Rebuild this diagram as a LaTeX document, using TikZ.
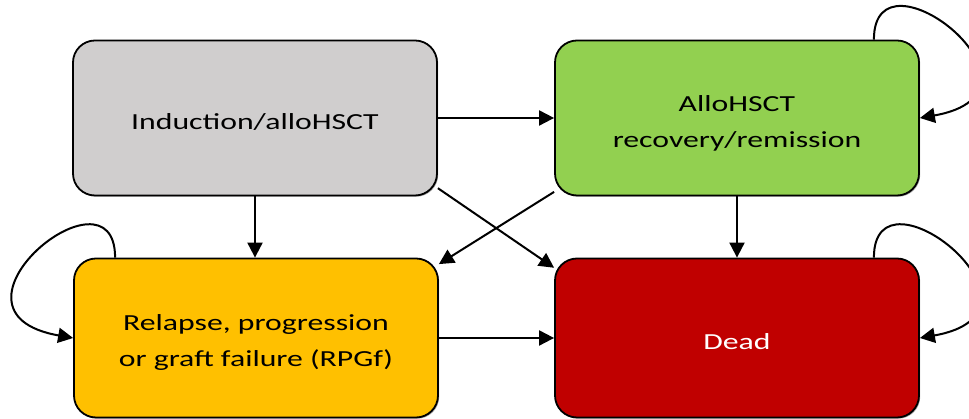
\documentclass[tikz,border=0pt]{standalone}
\usepackage{fontspec}
\setmainfont{Carlito}[FakeStretch=1.38]
\usepackage[HTML]{xcolor}
\usetikzlibrary{positioning, arrows, arrows.meta, shadows}

\definecolor{inductgray}{HTML}{D0CECE}
\definecolor{recovgreen}{HTML}{92D050}
\definecolor{relapseamber}{HTML}{FFC000}
\definecolor{deadred}{HTML}{C00000}

\newcommand{\firstline}[1]{\rule{0pt}{#1}}

\tikzset{
  state/.style={draw=black, line width=1.8pt, rounded corners=22pt,
    minimum width=364pt, minimum height=157pt, inner sep=0pt,
    align=center, font=\fontsize{23}{36}\selectfont,
    drop shadow={shadow xshift=1.2pt, shadow yshift=-1.2pt, opacity=0.35, fill=black}},
  trans/.style={line width=2pt, -{Triangle[length=15pt,width=15pt]}},
  selfloop/.style={trans, out=90, out distance=100pt, in distance=150pt},
}

\begin{document}
\begin{tikzpicture}[x=10pt,y=10pt]
\useasboundingbox (0,0) rectangle (96.9,41.9);

\node[state, fill=inductgray, minimum height=155pt] (IA) at (25.5,30.1) {\firstline{24pt}Induction/alloHSCT};
\node[state, fill=recovgreen, minimum height=155pt] (AR) at (73.7,30.1) {\firstline{27pt}AlloHSCT\\recovery/remission};
\node[state, fill=relapseamber, minimum height=159pt] (RP) at (25.6,8.1) {\firstline{24pt}Relapse, progression\\or graft failure (RPGf)};
\node[state, fill=deadred, minimum height=159pt, text=white] (D) at (73.7,8.1) {\firstline{24pt}Dead};

\draw[trans] (IA) -- (AR);
\draw[trans] (RP) -- (D);
\draw[trans] (IA.south) -- (IA.south |- RP.north);
\draw[trans] (AR.south) -- (AR.south |- D.north);
\draw[trans] (IA.-21) -- (D.159);
\draw[trans] (AR.202) -- (RP.22);

% self transitions
\draw[selfloop] ([xshift=-46pt]AR.north east) to[in=10] (AR.east);
\draw[selfloop] ([xshift=-46pt]D.north east) to[in=10] (D.east);
\draw[selfloop] ([xshift=42pt]RP.north west) to[in=170] (RP.west);
\end{tikzpicture}
\end{document}
